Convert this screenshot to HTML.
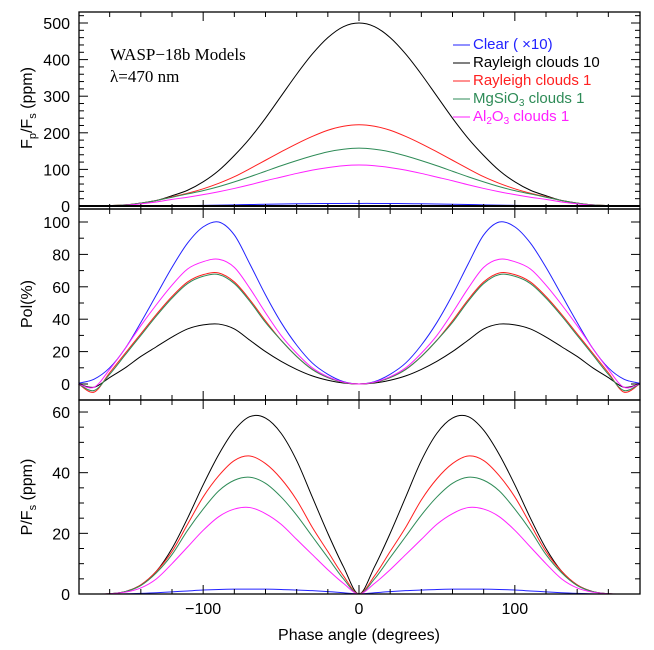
<!DOCTYPE html>
<html><head><meta charset="utf-8"><style>
html,body{margin:0;padding:0;background:#fff}
svg{display:block}
text{font-family:"Liberation Sans",sans-serif;}
text.serif{font-family:"Liberation Serif",serif;}
</style></head><body>
<svg id="chart" width="654" height="650" viewBox="0 0 654 650">
<g id="marks"></g>
<g id="axes"></g>
<text class="serif" x="110" y="60" font-size="17" fill="#000">WASP−18b Models</text>
<text class="serif" x="110" y="82" font-size="17" fill="#000">λ=470 nm</text>
<text x="359" y="640" font-size="16" text-anchor="middle">Phase angle (degrees)</text>
<text transform="translate(32,108) rotate(-90)" font-size="16" text-anchor="middle">F<tspan font-size="11" dy="4">p</tspan><tspan dy="-4">/F</tspan><tspan font-size="11" dy="4">s</tspan><tspan dy="-4"> (ppm)</tspan></text>
<text transform="translate(32,304) rotate(-90)" font-size="16" text-anchor="middle">Pol(%)</text>
<text transform="translate(32,497) rotate(-90)" font-size="16" text-anchor="middle">P/F<tspan font-size="11" dy="4">s</tspan><tspan dy="-4"> (ppm)</tspan></text>
<g id="legend">
<line x1="453" y1="45" x2="470" y2="45" stroke="#2222ff"/><text x="473" y="49" font-size="15" fill="#2222ff">Clear ( ×10)</text>
<line x1="453" y1="63" x2="470" y2="63" stroke="#000"/><text x="473" y="67" font-size="15" fill="#000">Rayleigh clouds 10</text>
<line x1="453" y1="81" x2="470" y2="81" stroke="#ff2020"/><text x="473" y="85" font-size="15" fill="#ff2020">Rayleigh clouds 1</text>
<line x1="453" y1="99" x2="470" y2="99" stroke="#2e8b57"/><text x="473" y="103" font-size="15" fill="#2e8b57">MgSiO<tspan font-size="10" dy="3">3</tspan><tspan dy="-3"> clouds 1</tspan></text>
<line x1="453" y1="117" x2="470" y2="117" stroke="#ff20ff"/><text x="473" y="121" font-size="15" fill="#ff20ff">Al<tspan font-size="10" dy="3">2</tspan><tspan dy="-3">O</tspan><tspan font-size="10" dy="3">3</tspan><tspan dy="-3"> clouds 1</tspan></text>
</g>
</svg>
<script>
// phase samples 0..180 step 10 (curves are symmetric in phase)
const phaseHalf=[0,10,20,30,40,50,60,70,80,90,100,110,120,130,140,150,160,170,180];
const seriesNames=["clear","rayleigh10","rayleigh1","mgsio3","al2o3"];
const fluxClear=[7,7,6.8,6.5,6,5.4,4.7,4,3.2,2.5,1.8,1.2,0.8,0.4,0.2,0.1,0,0,0];
const fluxRay10=[500,490,460,415,360,300,240,185,138,97,66,43,28,15,8,3,1,0,0];
const fluxRay1=[222,218,207,190,170,148,125,102,80,62,47,35,25,15,8,3,1,0,0];
const fluxMg=[158,155,148,137,124,110,95,80,66,53,42,33,24,15,8,3,1,0,0];
const fluxAl=[112,110,105,98,89,79,69,58,48,39,31,24,18,11,6,2,1,0,0];
const polClear=[0,1.5,6,13,24,38,55,74,92,100,97,87,72,55,38,22,10,3,0.5];
const polRay10=[0,0.6,2.3,5,9,14,20,27,34,37,36.5,34,29,23,17,10,4,-2,0];
const polRay1=[0,1,4,9,17,27,39,52,63,68.5,67.5,63,54,43,31,19,7,-5,0];
const polMg=[0,1,4,9,17,27,38,51,62,67.5,66.5,62,53,42,30,18,6,-4,0];
const polAl=[0,1.2,4.5,10,19,30,44,59,72,77,75.5,71,61,49,36,22,9,-2,0];
const pfClear=[0,0.4,0.8,1.1,1.3,1.5,1.6,1.6,1.6,1.5,1.3,1,0.7,0.4,0.2,0.05,0,0,0];
const pfRay10=[0,9,20,32,44,53,58,58.5,54,46,36,25,15,7.5,3,0.8,0.1,0,0];
const pfRay1=[0,6,14,22,31,38,43,45.5,44,39,32,23,14,7.5,3,0.8,0.1,0,0];
const pfMg=[0,5,12,19,26,32,36.5,38.5,37.5,34,28,21,13,7,2.8,0.8,0.1,0,0];
const pfAl=[0,3.5,8,13,18,23,26.5,28.5,28,25.5,21,15.5,10,5,2,0.6,0.1,0,0];
const xTicksMajor=[-100,0,100];
const yTicksFlux=[0,100,200,300,400,500];
const yTicksPol=[0,20,40,60,80,100];
const yTicksPf=[0,20,40,60];

const X0=79,X1=640;
const xs=p=>359+(p)*(X1-X0)/360;
const panels=[
 {top:12,bot:209,y:v=>206-v*0.366,min:-8,max:530,major:100,minor:20,ticks:yTicksFlux,data:[fluxClear,fluxRay10,fluxRay1,fluxMg,fluxAl],name:"flux"},
 {top:209,bot:400,y:v=>384-v*1.62,min:-10,max:108,major:20,minor:10,ticks:yTicksPol,data:[polClear,polRay10,polRay1,polMg,polAl],name:"pol"},
 {top:400,bot:594,y:v=>594-v*3.033,min:0,max:64,major:20,minor:5,ticks:yTicksPf,data:[pfClear,pfRay10,pfRay1,pfMg,pfAl],name:"polflux"}
];
const colors=["#2222ff","#000","#ff2020","#2e8b57","#ff20ff"];
const NS="http://www.w3.org/2000/svg";
const marks=document.getElementById('marks'),axes=document.getElementById('axes');
function mk(t,a,p){const e=document.createElementNS(NS,t);for(const k in a)e.setAttribute(k,a[k]);p.appendChild(e);return e;}
function path(pts){let d="M"+pts[0][0]+","+pts[0][1];for(let i=0;i<pts.length-1;i++){const p0=pts[Math.max(0,i-1)],p1=pts[i],p2=pts[i+1],p3=pts[Math.min(pts.length-1,i+2)];
d+=" C"+(p1[0]+(p2[0]-p0[0])/6).toFixed(2)+","+(p1[1]+(p2[1]-p0[1])/6).toFixed(2)+" "+(p2[0]-(p3[0]-p1[0])/6).toFixed(2)+","+(p2[1]-(p3[1]-p1[1])/6).toFixed(2)+" "+p2[0].toFixed(2)+","+p2[1].toFixed(2);}return d;}
panels.forEach((P,pi)=>{
 P.data.forEach((arr,si)=>{
  const pts=[];
  for(let i=phaseHalf.length-1;i>0;i--)pts.push([xs(-phaseHalf[i]),P.y(arr[i])]);
  for(let i=0;i<phaseHalf.length;i++)pts.push([xs(phaseHalf[i]),P.y(arr[i])]);
  const e=mk('path',{d:path(pts),fill:'none',stroke:colors[si],'stroke-width':1},marks);
  
  
 });
 const fr=mk('rect',{x:X0,y:P.top,width:X1-X0,height:P.bot-P.top,fill:'none',stroke:'#000','stroke-width':1.3},axes);
 
 
 for(let v=Math.ceil(P.min/P.minor)*P.minor;v<=P.max;v+=P.minor){
  const y=P.y(v);if(y<P.top+1||y>P.bot-1)continue;
  const L=(v%P.major===0)?9:5;
  mk('line',{x1:X0,y1:y,x2:X0+L,y2:y,stroke:'#000'},axes);
  mk('line',{x1:X1,y1:y,x2:X1-L,y2:y,stroke:'#000'},axes);
 }
 P.ticks.forEach(v=>{const t=mk('text',{x:70,y:P.y(v)+6,'font-size':16,'text-anchor':'end'},axes);t.textContent=v;
  
  });
 for(let p=-160;p<=160;p+=20){
  const x=xs(p);
  const l2=(xTicksMajor.indexOf(p)>=0)?9:5;
  mk('line',{x1:x,y1:P.bot,x2:x,y2:P.bot-l2,stroke:'#000'},axes);
  mk('line',{x1:x,y1:P.top,x2:x,y2:P.top+l2,stroke:'#000'},axes);
 }
});
mk('line',{x1:X0,y1:206,x2:X1,y2:206,stroke:'#000','stroke-width':2},axes);
xTicksMajor.forEach(p=>{const t=mk('text',{x:xs(p),y:614,'font-size':16,'text-anchor':'middle'},axes);t.textContent=(p<0?'−':'')+Math.abs(p);
 
 });
</script>
</body></html>
